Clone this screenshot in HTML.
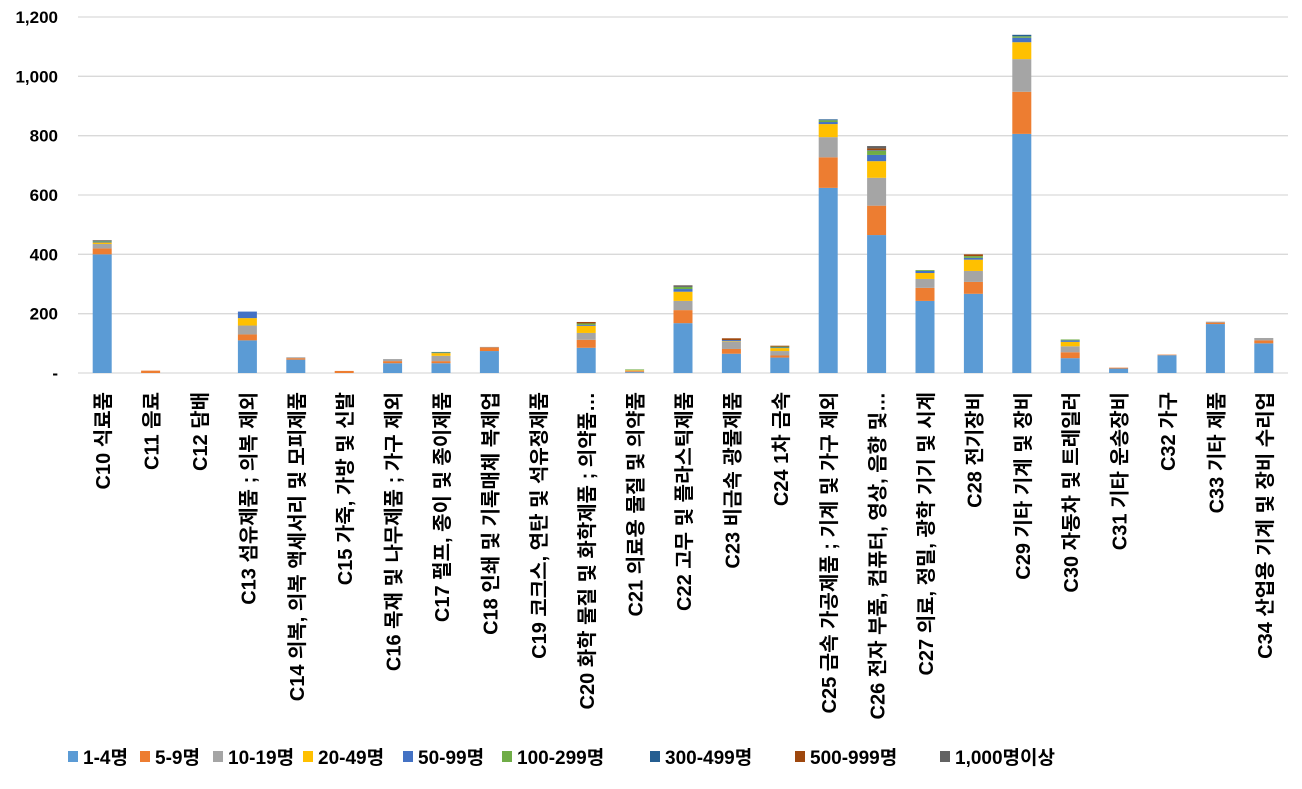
<!DOCTYPE html>
<html><head><meta charset="utf-8"><style>
body{margin:0;background:#fff;width:1302px;height:784px;overflow:hidden;font-family:"Liberation Sans","Noto Sans CJK KR",sans-serif}
svg text{font-family:"Liberation Sans","Noto Sans CJK KR",sans-serif}
</style></head><body>
<svg id="chart" width="1302" height="784" xmlns="http://www.w3.org/2000/svg"></svg>
<script>
const categories=["C10 식료품","C11 음료","C12 담배","C13 섬유제품 ; 의복 제외","C14 의복, 의복 액세서리 및 모피제품","C15 가죽, 가방 및 신발","C16 목재 및 나무제품 ; 가구 제외","C17 펄프, 종이 및 종이제품","C18 인쇄 및 기록매체 복제업","C19 코크스, 연탄 및 석유정제품","C20 화학 물질 및 화학제품 ; 의약품…","C21 의료용 물질 및 의약품","C22 고무 및 플라스틱제품","C23 비금속 광물제품","C24 1차 금속","C25 금속 가공제품 ; 기계 및 가구 제외","C26 전자 부품, 컴퓨터, 영상, 음향 및…","C27 의료, 정밀, 광학 기기 및 시계","C28 전기장비","C29 기타 기계 및 장비","C30 자동차 및 트레일러","C31 기타 운송장비","C32 가구","C33 기타 제품","C34 산업용 기계 및 장비 수리업"];
const seriesNames=["1-4명","5-9명","10-19명","20-49명","50-99명","100-299명","300-499명","500-999명","1,000명이상"];
const s1_4=[400,0,0,110,45,0,33,33,74,0,85,3,168,65,52,624,465,243,267,806,50,15,60,165,100];
const s5_9=[20,8,0,20,5,7,7,7,12,0,27,3,44,16,7,103,99,44,40,142,20,3,2,5,10];
const s10_19=[15,0,0,30,3,0,7,18,2,0,23,2,31,24,15,68,94,30,37,110,20,0,0,3,8];
const s20_49=[5,0,0,25,0,0,0,9,0,0,24,2,31,2,10,44,56,20,38,57,15,0,0,0,0];
const s50_99=[3,0,0,22,0,0,0,2,0,0,3,0,9,4,2,7,21,7,6,15,5,0,0,0,0];
const s100_299=[2,0,0,0,0,0,0,2,0,0,5,2,7,0,3,6,14,3,6,5,3,0,0,0,0];
const s300_499=[1,0,0,0,0,0,0,0,0,0,0,0,2,0,0,3,2,0,0,5,0,0,0,0,0];
const s500_999=[1,0,0,0,0,0,0,0,0,0,5,0,2,6,3,0,6,0,6,0,0,0,0,0,0];
const s1000=[1,0,0,0,0,0,0,0,0,0,0,0,2,0,0,0,8,0,0,0,0,0,0,0,0];
const yTicks=[0,200,400,600,800,1000,1200];
const yTickLabels=["-","200","400","600","800","1,000","1,200"];
const series=[s1_4,s5_9,s10_19,s20_49,s50_99,s100_299,s300_499,s500_999,s1000];
const colors=["#5b9bd5","#ed7d31","#a5a5a5","#ffc000","#4472c4","#70ad47","#255e91","#9e480e","#636363"];
const NS="http://www.w3.org/2000/svg";
const svg=document.getElementById('chart');
const L=78,R=1288,Y0=373,Y1=17;
const bw=(R-L)/categories.length;
const y=v=>Y0-(v/1200)*(Y0-Y1);
const xc=i=>L+bw*(i+0.5);
function mk(t,a){const e=document.createElementNS(NS,t);for(const k in a)e.setAttribute(k,a[k]);svg.appendChild(e);return e;}
yTicks.forEach((t,i)=>{
 const g=mk('line',{x1:L,x2:R,y1:y(t),y2:y(t),stroke:'#d9d9d9','stroke-width':1.3});
 
 
 const tx=mk('text',{x:58,y:y(t)+6,'text-anchor':'end','font-size':17,'font-weight':'bold',fill:'#000'});
 tx.textContent=yTickLabels[i];
 
 
});
categories.forEach((c,i)=>{
 let acc=0;
 series.forEach((s,k)=>{
  const v=s[i]; if(v<=0) return;
  const r=mk('rect',{x:xc(i)-9.5,y:y(acc+v),width:19,height:y(acc)-y(acc+v),fill:colors[k]});
  
  
  acc+=v;
 });
 const t=mk('text',{x:0,y:0,'text-anchor':'end','font-size':20,'font-weight':'bold',fill:'#000',transform:`translate(${xc(i)+8},392) rotate(-90)`});
 t.textContent=c;
 
 
});
const legX=[68,140,213,303,403,502,650,795,940];
seriesNames.forEach((n,k)=>{
 const r=mk('rect',{x:legX[k],y:751,width:10,height:11,fill:colors[k]});
 
 
 const t=mk('text',{x:legX[k]+15,y:764,'font-size':19,'font-weight':'bold',fill:'#000'});
 t.textContent=n;
 
 
});
</script>
</body></html>
